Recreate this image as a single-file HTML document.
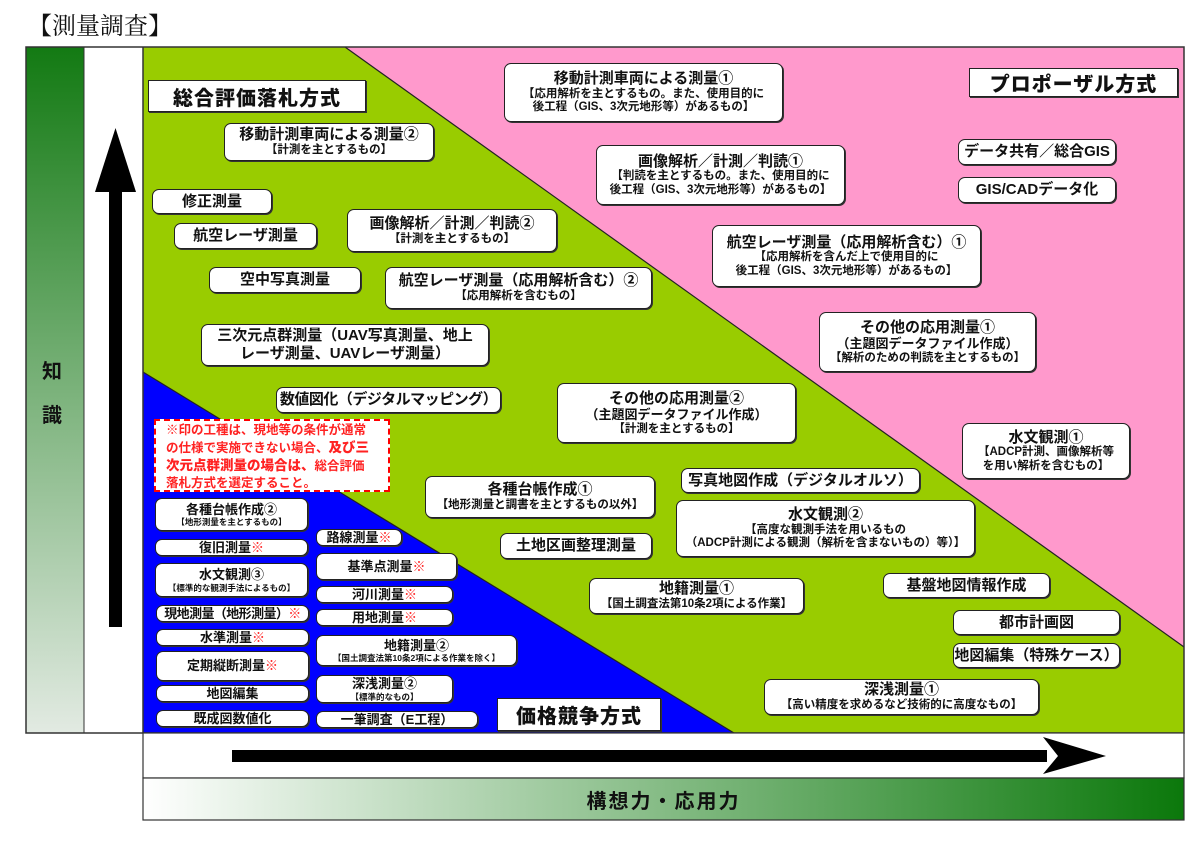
<!DOCTYPE html>
<html><head><meta charset="utf-8"><style>
*{margin:0;padding:0;box-sizing:border-box}
body{width:1200px;height:844px;background:#fff;position:relative;overflow:hidden;font-family:"Liberation Sans","Noto Sans CJK JP",sans-serif;color:#111}
.a{position:absolute}
.b{position:absolute;background:#fff;border:1.5px solid #222;border-radius:7px;box-shadow:1px 1px 0 #333;display:flex;flex-direction:column;align-items:center;justify-content:center;text-align:center;line-height:1.18;white-space:nowrap}
.t{font-size:15px;font-weight:bold}
.s{font-size:11.5px;font-weight:bold}
.xs{font-size:8.5px;font-weight:bold}
.m{font-size:13px;font-weight:bold}
.r{color:#f22}
.h{position:absolute;background:#fff;border:1.5px solid #222;box-shadow:1px 1px 0 #333;font-size:20px;font-weight:900;display:flex;align-items:center;justify-content:center;letter-spacing:1px}
</style></head><body>
<div class="a" style="left:28px;top:6px;font-family:'Liberation Serif','Noto Serif CJK SC',serif;font-size:24px">【測量調査】</div>

<svg class="a" style="left:0;top:0" width="1200" height="844">
<defs>
<linearGradient id="gv" x1="0" y1="0" x2="0" y2="1"><stop offset="0" stop-color="#137a13"/><stop offset="1" stop-color="#e2eae2"/></linearGradient>
<linearGradient id="gh" x1="0" y1="0" x2="1" y2="0"><stop offset="0" stop-color="#fff"/><stop offset="1" stop-color="#0b780b"/></linearGradient>
</defs>
<rect x="26" y="47" width="58" height="686" fill="url(#gv)"/>
<rect x="84" y="47" width="59" height="686" fill="#fff"/>
<polygon points="143,47 1184,47 1184,733 143,733" fill="#99cc00"/>
<polygon points="345,47 1184,47 1184,647" fill="#ff99cc"/>
<line x1="345" y1="47" x2="1184" y2="647" stroke="#222" stroke-width="1.2"/>
<polygon points="143,372 734,733 143,733" fill="#0000ff"/>
<line x1="143" y1="372" x2="734" y2="733" stroke="#222" stroke-width="1.2"/>
<rect x="26" y="47" width="1158" height="686" fill="none" stroke="#333" stroke-width="1.5"/>
<line x1="143" y1="47" x2="143" y2="733" stroke="#333" stroke-width="1.5"/>
<line x1="84" y1="47" x2="84" y2="733" stroke="#333" stroke-width="1"/>
<rect x="143" y="733" width="1041" height="45" fill="#fff" stroke="#333" stroke-width="1.2"/>
<rect x="143" y="778" width="1041" height="42" fill="url(#gh)" stroke="#333" stroke-width="1.2"/>
<rect x="109" y="190" width="13" height="437" fill="#000"/>
<polygon points="115.5,128 95,192 136,192" fill="#000"/>
<rect x="232" y="750" width="815" height="12" fill="#000"/>
<polygon points="1106,756 1043,737 1058,756 1043,774" fill="#000"/>
</svg>
<div class="a" style="left:42px;top:350px;font-size:20px;font-weight:bold;line-height:44px">知<br>識</div>
<div class="a" style="left:143px;top:785px;width:1041px;text-align:center;font-size:20px;font-weight:bold;letter-spacing:2px">構想力・応用力</div>

<div class="h" style="left:148px;top:80px;width:218px;height:32px">総合評価落札方式</div>
<div class="h" style="left:969px;top:68px;width:209px;height:29px">プロポーザル方式</div>
<div class="h" style="left:497px;top:698px;width:164px;height:33px">価格競争方式</div>

<div class="b" style="left:504px;top:63px;width:279px;height:59px"><div class="t">移動計測車両による測量①</div><div class="s">【応用解析を主とするもの。また、使用目的に</div><div class="s">後工程（GIS、3次元地形等）があるもの】</div></div>
<div class="b" style="left:224px;top:123px;width:210px;height:38px"><div class="t">移動計測車両による測量②</div><div class="s">【計測を主とするもの】</div></div>
<div class="b" style="left:152px;top:189px;width:120px;height:25px"><div class="t">修正測量</div></div>
<div class="b" style="left:174px;top:223px;width:143px;height:26px"><div class="t">航空レーザ測量</div></div>
<div class="b" style="left:209px;top:267px;width:152px;height:26px"><div class="t">空中写真測量</div></div>
<div class="b" style="left:347px;top:209px;width:210px;height:43px"><div class="t">画像解析／計測／判読②</div><div class="s">【計測を主とするもの】</div></div>
<div class="b" style="left:385px;top:267px;width:267px;height:42px"><div class="t">航空レーザ測量（応用解析含む）②</div><div class="s">【応用解析を含むもの】</div></div>
<div class="b" style="left:201px;top:324px;width:288px;height:42px"><div class="t">三次元点群測量（UAV写真測量、地上</div><div class="t">レーザ測量、UAVレーザ測量）</div></div>
<div class="b" style="left:276px;top:387px;width:225px;height:26px"><div class="t" style="letter-spacing:-0.5px">数値図化（デジタルマッピング）</div></div>
<div class="b" style="left:596px;top:145px;width:249px;height:60px"><div class="t">画像解析／計測／判読①</div><div class="s">【判読を主とするもの。また、使用目的に</div><div class="s">後工程（GIS、3次元地形等）があるもの】</div></div>
<div class="b" style="left:958px;top:139px;width:158px;height:26px"><div class="t">データ共有／総合GIS</div></div>
<div class="b" style="left:958px;top:177px;width:158px;height:26px"><div class="t">GIS/CADデータ化</div></div>
<div class="b" style="left:712px;top:225px;width:269px;height:62px"><div class="t">航空レーザ測量（応用解析含む）①</div><div class="s">【応用解析を含んだ上で使用目的に</div><div class="s">後工程（GIS、3次元地形等）があるもの】</div></div>
<div class="b" style="left:819px;top:312px;width:217px;height:60px"><div class="t">その他の応用測量①</div><div class="m">（主題図データファイル作成）</div><div class="s">【解析のための判読を主とするもの】</div></div>
<div class="b" style="left:557px;top:383px;width:239px;height:60px"><div class="t">その他の応用測量②</div><div class="m">（主題図データファイル作成）</div><div class="s">【計測を主とするもの】</div></div>
<div class="b" style="left:962px;top:423px;width:168px;height:56px"><div class="t">水文観測①</div><div class="s">【ADCP計測、画像解析等</div><div class="s">を用い解析を含むもの】</div></div>
<div class="b" style="left:681px;top:468px;width:239px;height:25px"><div class="t">写真地図作成（デジタルオルソ）</div></div>
<div class="b" style="left:425px;top:476px;width:230px;height:42px"><div class="t">各種台帳作成①</div><div class="s">【地形測量と調書を主とするもの以外】</div></div>
<div class="b" style="left:676px;top:500px;width:299px;height:57px"><div class="t">水文観測②</div><div class="s">【高度な観測手法を用いるもの</div><div class="s">（ADCP計測による観測（解析を含まないもの）等）】</div></div>
<div class="b" style="left:500px;top:533px;width:152px;height:26px"><div class="t">土地区画整理測量</div></div>
<div class="b" style="left:589px;top:578px;width:215px;height:36px"><div class="t">地籍測量①</div><div class="s">【国土調査法第10条2項による作業】</div></div>
<div class="b" style="left:883px;top:573px;width:167px;height:25px"><div class="t">基盤地図情報作成</div></div>
<div class="b" style="left:953px;top:610px;width:167px;height:25px"><div class="t">都市計画図</div></div>
<div class="b" style="left:953px;top:643px;width:167px;height:25px"><div class="t">地図編集（特殊ケース）</div></div>
<div class="b" style="left:764px;top:679px;width:275px;height:36px"><div class="t">深浅測量①</div><div class="s">【高い精度を求めるなど技術的に高度なもの】</div></div>

<div class="a" style="left:154px;top:419px;width:236px;height:73px;background:#fff;border:2px dashed #f00;padding:1px 0 0 10px;color:#f22;font-size:12.5px;font-weight:bold;line-height:17px;white-space:nowrap">※印の工種は、現地等の条件が通常<br>の仕様で実施できない場合、<span style="font-size:13.5px;font-weight:900">及び三<br>次元点群測量の場合は、</span>総合評価<br>落札方式を選定すること。</div>

<div class="b" style="left:155px;top:498px;width:153px;height:33px"><div class="m">各種台帳作成②</div><div class="xs">【地形測量を主とするもの】</div></div>
<div class="b" style="left:155px;top:539px;width:153px;height:17px"><div class="m">復旧測量<span class="r">※</span></div></div>
<div class="b" style="left:155px;top:563px;width:153px;height:34px"><div class="m">水文観測③</div><div class="xs">【標準的な観測手法によるもの】</div></div>
<div class="b" style="left:156px;top:605px;width:153px;height:17px"><div class="m" style="letter-spacing:-0.6px">現地測量（地形測量）<span class="r">※</span></div></div>
<div class="b" style="left:156px;top:629px;width:153px;height:17px"><div class="m">水準測量<span class="r">※</span></div></div>
<div class="b" style="left:156px;top:651px;width:153px;height:30px"><div class="m">定期縦断測量<span class="r">※</span></div></div>
<div class="b" style="left:156px;top:685px;width:153px;height:17px"><div class="m">地図編集</div></div>
<div class="b" style="left:156px;top:710px;width:153px;height:17px"><div class="m">既成図数値化</div></div>
<div class="b" style="left:316px;top:529px;width:86px;height:17px"><div class="m">路線測量<span class="r">※</span></div></div>
<div class="b" style="left:316px;top:553px;width:141px;height:27px"><div class="m">基準点測量<span class="r">※</span></div></div>
<div class="b" style="left:316px;top:586px;width:137px;height:17px"><div class="m">河川測量<span class="r">※</span></div></div>
<div class="b" style="left:316px;top:609px;width:137px;height:17px"><div class="m">用地測量<span class="r">※</span></div></div>
<div class="b" style="left:316px;top:635px;width:201px;height:31px"><div class="m">地籍測量②</div><div class="xs">【国土調査法第10条2項による作業を除く】</div></div>
<div class="b" style="left:316px;top:675px;width:137px;height:28px"><div class="m">深浅測量②</div><div class="xs">【標準的なもの】</div></div>
<div class="b" style="left:316px;top:711px;width:162px;height:17px"><div class="m">一筆調査（E工程）</div></div>
</body></html>
